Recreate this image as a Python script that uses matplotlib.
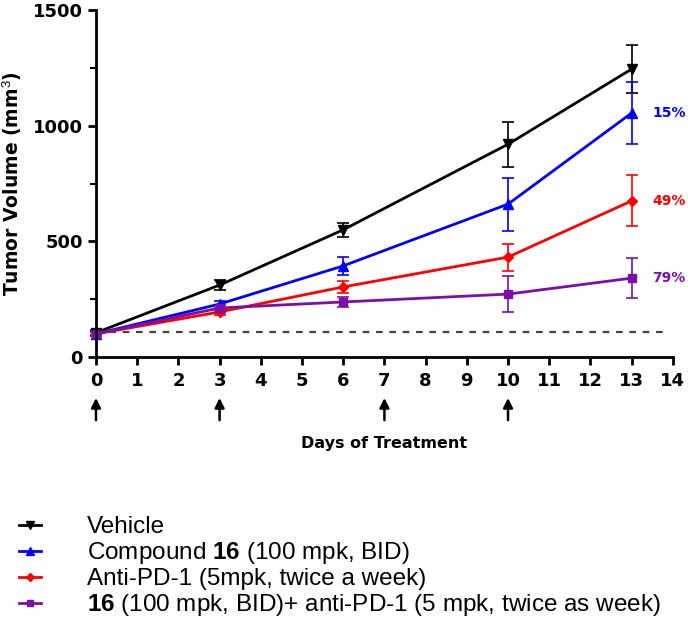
import matplotlib
matplotlib.use("Agg")
import matplotlib.pyplot as plt
from matplotlib.lines import Line2D

# Data
days = [0, 3, 6, 10, 13]
vehicle = [105, 311, 550, 920, 1245]
vehicle_err = [10, 20, 30, 97, 105]
compound = [100, 229, 394, 661, 1055]
compound_err = [10, 15, 40, 115, 135]
anti_pd1 = [100, 195, 303, 432, 675]
anti_pd1_err = [10, 15, 25, 58, 110]
combo = [100, 212, 238, 272, 341]
combo_err = [10, 15, 20, 77, 85]
baseline = 108
dose_days = [0, 3, 7, 10]
inhibition = ['15%', '49%', '79%']

plt.rcParams['font.family'] = ['Liberation Sans', 'DejaVu Sans']
plt.rcParams['mathtext.fontset'] = 'custom'
plt.rcParams['mathtext.rm'] = 'Liberation Sans'
plt.rcParams['mathtext.bf'] = 'Liberation Sans:bold'

bold_font = dict(family='DejaVu Sans', fontweight='bold')

fig = plt.figure(figsize=(6.88, 6.29), dpi=100)
ax = fig.add_axes([0.1395, 0.4324, 0.8385, 0.5516])

purple = '#7b0fa8'
series = [
    (vehicle, vehicle_err, 'black', 'v', 7),
    (compound, compound_err, 'blue', '^', 7),
    (anti_pd1, anti_pd1_err, 'red', 'D', 5),
    (combo, combo_err, purple, 's', 6),
]
for vals, err, color, marker, ms in series:
    ax.errorbar(days, vals, yerr=err, color=color, marker=marker, markersize=ms,
                linewidth=2, elinewidth=1.2, capsize=4, capthick=1.2, clip_on=False)

ax.axhline(baseline, xmin=0, xmax=0.99, color='#444444', linestyle=(0, (3, 3)), linewidth=1.6)

# inhibition labels at last day
for vals, label, color in zip([compound, anti_pd1, combo], inhibition,
                               ['blue', 'red', purple]):
    ax.text(days[-1] + 0.5, vals[-1], label, color=color, fontsize=10,
            va='center', ha='left', **bold_font)

ax.set_xlim(0, 14)
ax.set_ylim(0, 1500)
ax.set_xticks(range(0, 15))
ax.set_yticks([0, 500, 1000, 1500])
ax.set_yticks([250, 750, 1250], minor=True)
for s in ['top', 'right']:
    ax.spines[s].set_visible(False)
for s in ['left', 'bottom']:
    ax.spines[s].set_linewidth(2)
ax.tick_params(axis='both', which='major', length=6, width=2, labelsize=13)
ax.tick_params(axis='x', pad=5)
ax.tick_params(axis='y', which='minor', length=4, width=1.5)
for lab in ax.get_xticklabels() + ax.get_yticklabels():
    lab.set_family('DejaVu Sans')
    lab.set_fontweight('bold')

ax.set_ylabel('Tumor Volume (mm$^3$)', fontsize=13.5, labelpad=6, **bold_font)
ax.set_xlabel('Days of Treatment', fontsize=11.5, labelpad=33, **bold_font)

# dosing arrows
for d in dose_days:
    ax.annotate('', xy=(d, -0.11), xytext=(d, -0.19),
                xycoords=('data', 'axes fraction'), textcoords=('data', 'axes fraction'),
                arrowprops=dict(arrowstyle='-|>', color='black', lw=1.8, mutation_scale=14),
                annotation_clip=False)

handles = [Line2D([], [], color=c, marker=m, markersize=ms * 0.8, linewidth=2)
           for _, _, c, m, ms in series]
labels = ['Vehicle',
          r'Compound $\mathbf{16}$ (100 mpk, BID)',
          'Anti-PD-1 (5mpk, twice a week)',
          r'$\mathbf{16}$ (100 mpk, BID)+ anti-PD-1 (5 mpk, twice as week)']
fig.legend(handles, labels, loc='upper left', bbox_to_anchor=(0.028, 0.179),
           frameon=False, fontsize=17.5, handlelength=0.9, handletextpad=1.9,
           labelspacing=0.08, borderaxespad=0, borderpad=0)

fig.savefig('out.png', dpi=100, facecolor='white')
